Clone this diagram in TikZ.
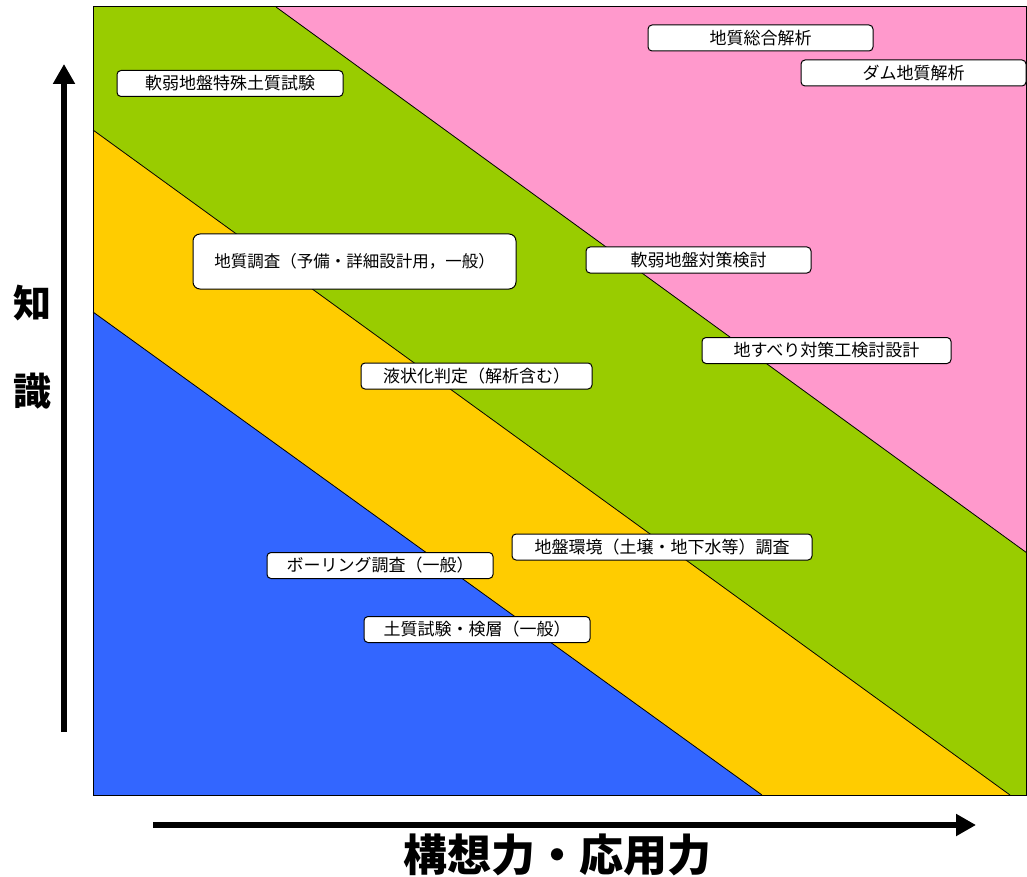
\documentclass[tikz,border=0pt]{standalone}
\usepackage{fontspec}
\setmainfont{Noto Sans CJK JP}
\usetikzlibrary{arrows.meta}
\definecolor{cblue}{HTML}{3366FF}
\definecolor{cyellow}{HTML}{FFCC00}
\definecolor{cgreen}{HTML}{99CC00}
\definecolor{cpink}{HTML}{FF99CC}
\begin{document}
\begin{tikzpicture}[x=1pt,y=-1pt,
  box/.style={draw=black, fill=white, line width=1pt, rounded corners=4pt, inner sep=0pt,
    minimum height=26pt, font=\fontsize{17}{17}\selectfont},
  band/.style={line width=0.8pt, line join=round},
  axisarrow/.style={line width=6pt, -{Triangle[width=21pt,length=20pt]}},
  axislabel/.style={font=\fontsize{38}{38}\bfseries\selectfont, inner sep=0pt}]
\useasboundingbox (0,0) rectangle (1027,877);
% bands
\fill[cpink] (276,7) -- (1027,7) -- (1027,553) -- cycle;
\fill[cgreen] (93,7) -- (276,7) -- (1027,553) -- (1027,795) -- (1010,795) -- (93,130) -- cycle;
\fill[cyellow] (93,130) -- (1010,795) -- (762,795) -- (93,312) -- cycle;
\fill[cblue] (93,312) -- (762,795) -- (93,795) -- cycle;
\draw[band] (276,7) -- (1027,553);
\draw[band] (93,130) -- (1010,795);
\draw[band] (93,312) -- (762,795);
\draw[line width=1pt] (93,7) rectangle (1026.5,795);
% boxes
\node[box, minimum width=226pt] (b1) at (230,83.5) {軟弱地盤特殊土質試験};
\node[box, minimum width=323pt, minimum height=55pt, rounded corners=7pt, font=\fontsize{16.5}{16.5}\selectfont] (b2) at (354.5,261.5) {地質調査（予備・詳細設計用，一般）};
\node[box, minimum width=225pt] (b3) at (760.5,38) {地質総合解析};
\node[box, minimum width=225pt] (b4) at (913.5,73) {ダム地質解析};
\node[box, minimum width=225pt] (b5) at (698.5,260) {軟弱地盤対策検討};
\node[box, minimum width=249pt] (b6) at (826.5,350.5) {地すべり対策工検討設計};
\node[box, minimum width=231pt] (b7) at (476.5,376) {液状化判定（解析含む）};
\node[box, minimum width=300pt] (b8) at (662,547) {地盤環境（土壌・地下水等）調査};
\node[box, minimum width=226pt] (b9) at (380,565.5) {ボーリング調査（一般）};
\node[box, minimum width=226pt] (b10) at (477,629.5) {土質試験・検層（一般）};
% axes
\coordinate (ybot) at (64,732);
\coordinate (ytop) at (64,64);
\coordinate (xl) at (153,825);
\coordinate (xr) at (976,825);
\draw[axisarrow] (ybot) -- (ytop);
\draw[axisarrow] (xl) -- (xr);
\node[axislabel] (k1) at (32,303) {知};
\node[axislabel] (k2) at (32,391) {識};
\node[axislabel, font=\fontsize{44}{44}\bfseries\selectfont] (xlab) at (557,855) {構想力・応用力};
\end{tikzpicture}
\end{document}
